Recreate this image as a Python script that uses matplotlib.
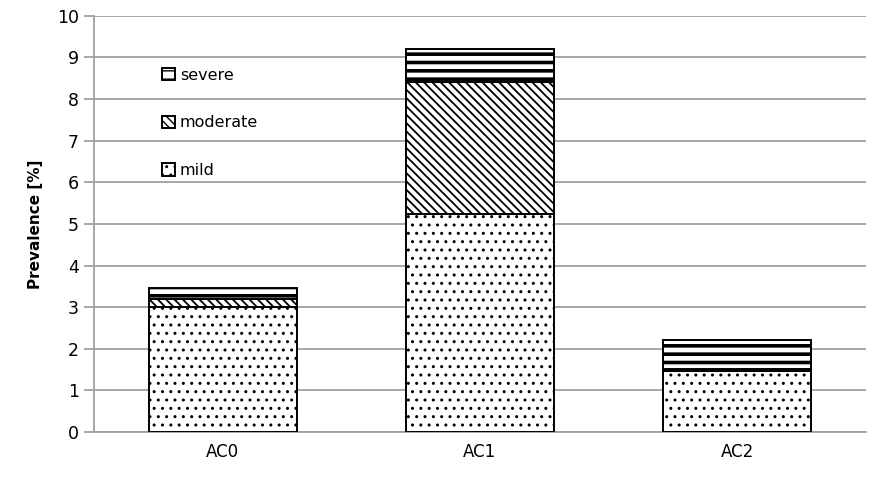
import numpy as np
import matplotlib
matplotlib.use("Agg")
import matplotlib.pyplot as plt
from matplotlib.patches import Patch

plt.rcParams.update({"font.family": "DejaVu Sans"})

groups = ["AC0", "AC1", "AC2"]
mild = [3.0, 5.25, 1.47]
moderate = [0.2, 3.15, 0.05]
severe = [0.27, 0.8, 0.70]

# hatch per severity level: (pattern, hatch line width)
styles = {"mild": ("..", 1.0), "moderate": ("\\\\\\\\", 1.3), "severe": ("--", 2.6)}

fig = plt.figure(figsize=(8.7, 4.79), dpi=100)
ax = fig.add_axes([0.108, 0.098, 0.887, 0.869])

x = np.arange(len(groups))
w = 0.575
kw = dict(width=w, color="white", edgecolor="black", linewidth=1.4, zorder=3)
bottom = np.zeros(len(groups))
for name, vals in [("mild", mild), ("moderate", moderate), ("severe", severe)]:
    hatch, hlw = styles[name]
    plt.rcParams["hatch.linewidth"] = hlw
    ax.bar(x, vals, bottom=bottom, hatch=hatch, **kw)
    bottom = bottom + np.array(vals)

ax.set_ylim(0, 10)
ax.set_xlim(-0.5, 2.5)
ax.set_yticks(range(0, 11))
ax.yaxis.grid(True, color="#a0a0a0", linewidth=1.3, zorder=0)
ax.set_xticks(x)
ax.set_xticklabels(groups)
ax.tick_params(axis="x", length=0, labelsize=12, pad=8)
ax.tick_params(axis="y", length=7, color="#a0a0a0", width=1.3, labelsize=12.5, pad=4)
for s in ("top", "right"):
    ax.spines[s].set_visible(False)
for s in ("left", "bottom"):
    ax.spines[s].set_color("#a0a0a0")
    ax.spines[s].set_linewidth(1.3)
ax.set_ylabel("Prevalence [%]", fontsize=11, fontweight="bold", labelpad=10)

handles = []
for name in ["severe", "moderate", "mild"]:
    hatch, hlw = styles[name]
    plt.rcParams["hatch.linewidth"] = min(hlw, 1.4)
    handles.append(Patch(facecolor="white", edgecolor="black", linewidth=1.4,
                         hatch=hatch, label=name))
ax.legend(handles=handles, loc="upper left", bbox_to_anchor=(0.07, 0.91),
          frameon=False, fontsize=11.5, handlelength=0.8, handleheight=0.8,
          handletextpad=0.3, labelspacing=2.05)

fig.savefig("out.png", dpi=100)
